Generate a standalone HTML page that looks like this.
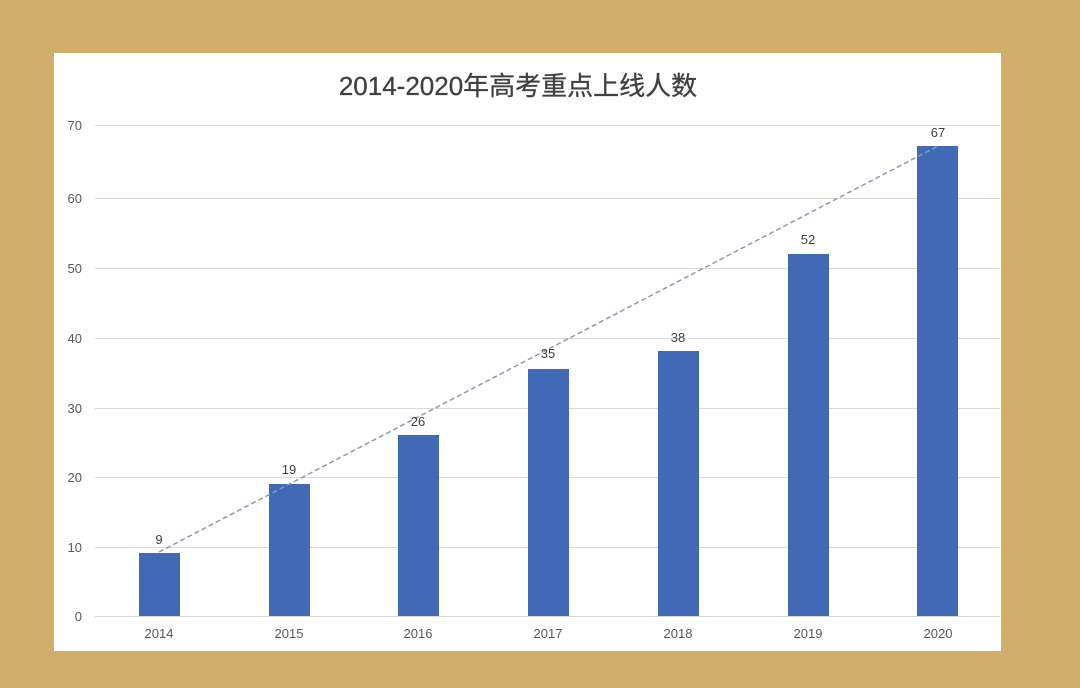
<!DOCTYPE html>
<html><head><meta charset="utf-8"><style>
html,body{margin:0;padding:0;background:#D1AE68;}
svg{display:block;}
</style></head><body>
<svg width="1080" height="688" xmlns="http://www.w3.org/2000/svg" font-family="Liberation Sans, Noto Sans CJK SC, sans-serif">
<rect width="1080" height="688" fill="#D1AE68"/>
<rect x="54" y="53" width="947" height="598" fill="#ffffff"/>
<text x="518" y="95" text-anchor="middle" font-size="26" fill="#404040" stroke="#404040" stroke-width="0.3">2014-2020年高考重点上线人数</text>
<g stroke="#d9d9d9" stroke-width="1">
<line x1="95" x2="1000" y1="125.5" y2="125.5"/>
<line x1="95" x2="1000" y1="198.5" y2="198.5"/>
<line x1="95" x2="1000" y1="268.5" y2="268.5"/>
<line x1="95" x2="1000" y1="338.5" y2="338.5"/>
<line x1="95" x2="1000" y1="408.5" y2="408.5"/>
<line x1="95" x2="1000" y1="477.5" y2="477.5"/>
<line x1="95" x2="1000" y1="547.5" y2="547.5"/>
<line x1="95" x2="1000" y1="616.5" y2="616.5"/>
</g>
<g font-size="13" fill="#595959" text-anchor="end">
<text x="82" y="130">70</text><text x="82" y="203">60</text><text x="82" y="273">50</text>
<text x="82" y="343">40</text><text x="82" y="413">30</text><text x="82" y="482">20</text>
<text x="82" y="552">10</text><text x="82" y="621">0</text>
</g>
<g fill="#4169B5">
<rect x="139" y="553" width="41" height="63"/>
<rect x="269" y="484" width="41" height="132"/>
<rect x="398" y="435" width="41" height="181"/>
<rect x="528" y="369" width="41" height="247"/>
<rect x="658" y="351" width="41" height="265"/>
<rect x="788" y="254" width="41" height="362"/>
<rect x="917" y="146" width="41" height="470"/>
</g>
<line x1="159" y1="552" x2="938" y2="146" stroke="#8a9bb0" stroke-width="1.5" stroke-dasharray="5,3"/>
<g font-size="13" fill="#404040" text-anchor="middle">
<text x="159" y="544">9</text><text x="289" y="474">19</text><text x="418" y="426">26</text>
<text x="548" y="358">35</text><text x="678" y="342">38</text><text x="808" y="244">52</text>
<text x="938" y="137">67</text>
</g>
<g font-size="13" fill="#595959" text-anchor="middle">
<text x="159" y="638">2014</text><text x="289" y="638">2015</text><text x="418" y="638">2016</text>
<text x="548" y="638">2017</text><text x="678" y="638">2018</text><text x="808" y="638">2019</text>
<text x="938" y="638">2020</text>
</g>
</svg>
</body></html>
